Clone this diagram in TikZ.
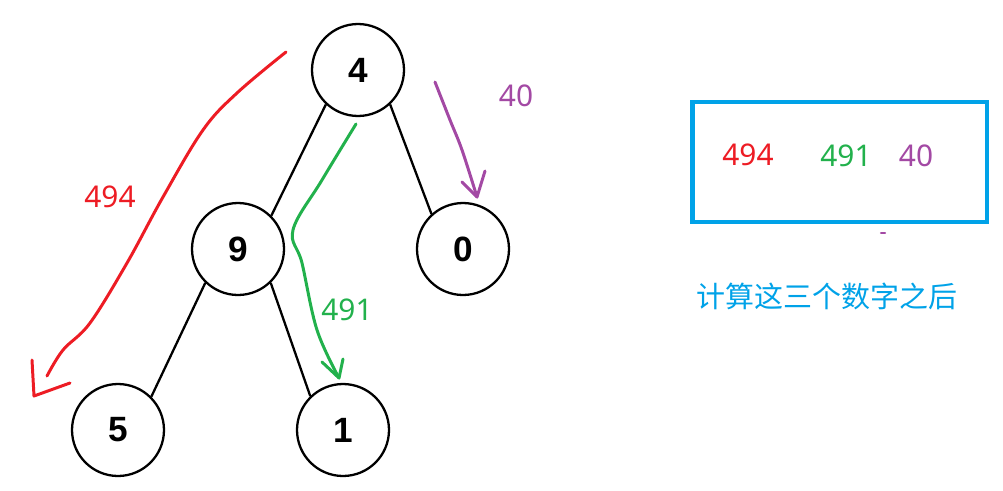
\documentclass[tikz,border=0pt]{standalone}
\usepackage{fontspec}
\setmainfont{Liberation Sans}
\newfontfamily\lblfont{Noto Sans}
\newfontfamily\cjkfont{Noto Sans CJK SC}
\definecolor{pred}{HTML}{ED1C24}
\definecolor{pgreen}{HTML}{22B14C}
\definecolor{ppurple}{HTML}{A349A4}
\definecolor{pblue}{HTML}{00A2E8}
\begin{document}
\begin{tikzpicture}[x=0.02cm,y=-0.02cm,
  tnode/.style={circle,draw=black,line width=1.3pt,minimum size=1.84cm,inner sep=0pt,font=\fontsize{20}{22}\selectfont\bfseries},
  tedge/.style={line width=1.3pt},
  hand/.style={line width=1.7pt,line cap=round,line join=round},
  lbl/.style={font=\lblfont\fontsize{17}{19}\selectfont,inner sep=0pt}]
\useasboundingbox (0,0) rectangle (1003,490);
\node[tnode] (n4) at (358,70) {4};
\node[tnode] (n9) at (238,249) {9};
\node[tnode] (n0) at (463,249) {0};
\node[tnode] (n5) at (118,430) {5};
\node[tnode] (n1) at (343,430) {1};
\draw[tedge] (n4.227) -- (n9.45);
\draw[tedge] (n4.313) -- (n0.132);
\draw[tedge] (n9.226) -- (n5.45);
\draw[tedge] (n9.314) -- (n1.134);
% red freehand arrow
\draw[hand,pred] plot[smooth,tension=0.6] coordinates {(286,52) (237,93) (203,130) (163,197) (127,263) (90,323) (63,350) (47,376)};
\draw[hand,pred] (32,360) -- (34,396) -- (70,383);
% green freehand arrow
\draw[hand,pgreen] plot[smooth,tension=0.6] coordinates {(356,124) (322,180) (293,230) (302,263) (317,330) (339,378)};
\draw[hand,pgreen] (322,362) -- (339,378) -- (343,359);
% purple freehand arrow
\draw[hand,ppurple] plot[smooth,tension=0.6] coordinates {(435,82) (450,120) (462,150) (477,197)};
\draw[hand,ppurple] (462,182) -- (477,197) -- (485,171);
\node[lbl,pred] (l494) at (110,197) {494};
\node[lbl,pgreen] (l491) at (347,310) {491};
\node[lbl,ppurple] (l40) at (516,96) {40};
% result box
\node[draw=pblue,line width=2.8pt,minimum width=5.9cm,minimum height=2.4cm,inner sep=0pt] (box) at (839.5,162) {};
\node[lbl,pred] (r494) at (748,155) {494};
\node[lbl,pgreen] (r491) at (846,156) {491};
\node[lbl,ppurple] (r40) at (916,156) {40};
\draw[ppurple,line width=1.2pt,line cap=round] (881,233) -- (885,233);
\node[font=\cjkfont\fontsize{16.5}{18}\selectfont,text=pblue,inner sep=0pt] (cap) at (827,296) {计算这三个数字之后};
\end{tikzpicture}
\end{document}
